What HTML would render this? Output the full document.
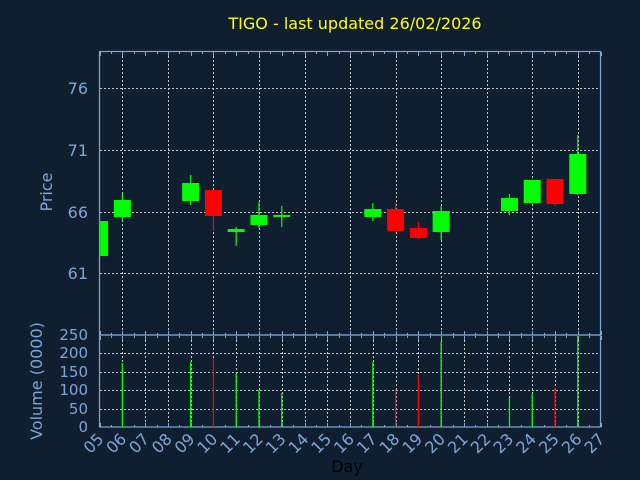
<!DOCTYPE html>
<html><head><meta charset="utf-8"><style>
html,body{margin:0;padding:0;background:#101f30;}
svg{display:block;font-family:"DejaVu Sans","Liberation Sans",sans-serif;}
</style></head><body>
<svg width="640" height="480" viewBox="0 0 640 480" xmlns="http://www.w3.org/2000/svg">
<rect width="640" height="480" fill="#101f30"/>
<text x="355" y="29" fill="#ffff00" font-size="16" text-anchor="middle">TIGO - last updated 26/02/2026</text>
<g stroke="#c8c8c8" stroke-width="1" stroke-dasharray="2,2" fill="none">
<line x1="100" y1="88.5" x2="600" y2="88.5"/>
<line x1="100" y1="150.5" x2="600" y2="150.5"/>
<line x1="100" y1="212.5" x2="600" y2="212.5"/>
<line x1="100" y1="273.5" x2="600" y2="273.5"/>
<line x1="100" y1="353.5" x2="600" y2="353.5"/>
<line x1="100" y1="372.5" x2="600" y2="372.5"/>
<line x1="100" y1="390.5" x2="600" y2="390.5"/>
<line x1="100" y1="409.5" x2="600" y2="409.5"/>
</g>
<g id="vg" stroke="#c8c8c8" stroke-width="1" stroke-dasharray="2,2"></g>
<g id="ticks" stroke="#7ea6d8" stroke-width="1"></g>
<g fill="none" stroke="#7ea6d8" stroke-width="1.2">
<rect x="99.5" y="51.5" width="501" height="283.5"/>
<rect x="99.5" y="335" width="501" height="92"/>
</g>
<g id="candles"></g>
<g id="vols"></g>
<g fill="#7ea6d8" font-size="16" text-anchor="end">
<text x="88" y="94">76</text><text x="88" y="156">71</text><text x="88" y="218">66</text><text x="88" y="279">61</text>
</g>
<g fill="#7ea6d8" font-size="15" text-anchor="end">
<text x="88" y="340">250</text><text x="88" y="358">200</text><text x="88" y="377">150</text><text x="88" y="395">100</text><text x="88" y="414">50</text><text x="88" y="432">0</text>
</g>
<text transform="translate(52,192) rotate(-90)" fill="#7ea6d8" font-size="16" text-anchor="middle">Price</text>
<text transform="translate(42,381) rotate(-90)" fill="#7ea6d8" font-size="16" text-anchor="middle">Volume (0000)</text>
<text x="347" y="472" fill="#000" font-size="16" text-anchor="middle">Day</text>
<g id="xl" fill="#7ea6d8" font-size="16" text-anchor="end"></g>
</svg>
<script>
var NS="http://www.w3.org/2000/svg";
function el(p,t,a){var e=document.createElementNS(NS,t);for(var k in a)e.setAttribute(k,a[k]);document.getElementById(p).appendChild(e);return e;}
function X(d){return 99.6+(d-5)*22.77;}
for(var d=6;d<=26;d++){var x=Math.round(X(d))+0.5;
 if(d%2==0) el("vg","line",{x1:x,y1:52,x2:x,y2:334});
 el("vg","line",{x1:x,y1:336,x2:x,y2:427});}
for(var h=5;h<=27;h+=0.5){var x=Math.round(X(h))+0.5;var L=(h%1==0)?4:2;
 el("ticks","line",{x1:x,y1:52,x2:x,y2:52+L});el("ticks","line",{x1:x,y1:335,x2:x,y2:335-L});
 el("ticks","line",{x1:x,y1:336,x2:x,y2:336+L});el("ticks","line",{x1:x,y1:427,x2:x,y2:427-L});}
var G="#00ff00",R="#ff0000";
var C=[[5,221,256,221,256,G],[6,200,217,194,220,G],[9,183,201,175,205,G],[10,190,216,190,231,R],[11,229,232,227,246,G],[12,215,225,202,228,G],[13,215,217,206,227,G],[17,209,217,203,221,G],[18,209,231,203,233,R],[19,228,238,222,239,R],[20,211,232,206,240,G],[23,198,211,194,215,G],[24,180,203,180,203,G],[25,179,204,179,206,R],[26,154,194,135,195,G]];
C.forEach(function(c){var x=X(c[0]);
 el("candles","line",{x1:x,y1:c[3],x2:x,y2:c[4],stroke:c[5],"stroke-width":1.2});
 var x0=Math.max(x-8.5,100.2);el("candles","rect",{x:x0,y:c[1],width:x+8.5-x0,height:c[2]-c[1],fill:c[5]});});
var V=[[6,363,G],[9,362,G],[10,359,R],[11,374,G],[12,390,G],[13,393,G],[17,362,G],[18,389,R],[19,375,R],[20,342,G],[23,398,G],[24,394,G],[25,388,R],[26,336,G]];
V.forEach(function(v){var x=X(v[0]);el("vols","line",{x1:x,y1:v[1],x2:x,y2:427,stroke:v[2],"stroke-width":1.3});});
for(var d=5;d<=27;d++){var x=X(d)+5;var s=(d<10?"0":"")+d;
 var t=el("xl","text",{transform:"translate("+x+",440) rotate(-45)"});t.textContent=s;}
</script>
</body></html>
